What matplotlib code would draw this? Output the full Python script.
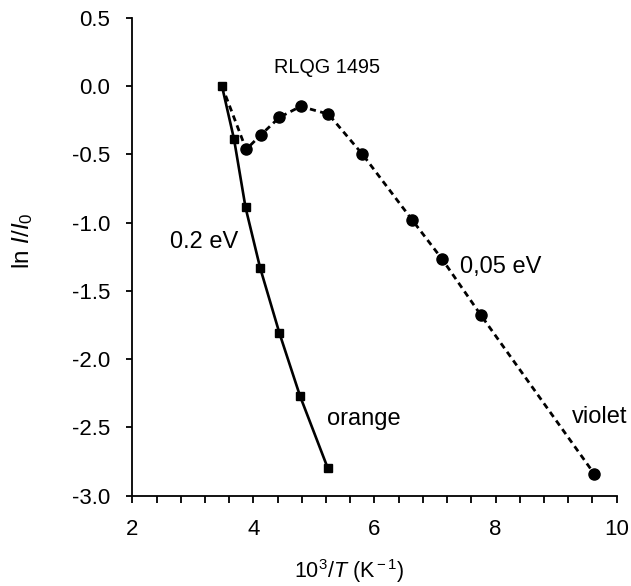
import numpy as np
import matplotlib.pyplot as plt
from matplotlib.ticker import MultipleLocator

plt.rcParams['font.family'] = ['Liberation Sans', 'DejaVu Sans']
plt.rcParams['mathtext.fontset'] = 'custom'
plt.rcParams['mathtext.rm'] = 'Liberation Sans'
plt.rcParams['mathtext.it'] = 'Liberation Sans:italic'
plt.rcParams['mathtext.bf'] = 'Liberation Sans:bold'

# orange band (squares, solid)
x_orange = [3.48, 3.68, 3.87, 4.11, 4.43, 4.77, 5.23]
y_orange = [0.0, -0.39, -0.89, -1.33, -1.81, -2.27, -2.80]

# violet band (circles, dashed), starts from the common first point
x_violet = [3.48, 3.88, 4.12, 4.43, 4.78, 5.24, 5.80, 6.62, 7.12, 7.76, 9.63]
y_violet = [0.0, -0.465, -0.36, -0.23, -0.15, -0.207, -0.50, -0.98, -1.27, -1.68, -2.84]

fig = plt.figure(figsize=(6.31, 5.86), dpi=100)
ax = fig.add_axes([0.2097, 0.154, 0.7676, 0.816])

ax.plot(x_violet, y_violet, color='black', lw=2, ls=(0, (2.2, 1.6)))
ax.plot(x_violet[1:], y_violet[1:], 'o', color='black', ms=8)
ax.plot(x_orange, y_orange, color='black', lw=1.9, marker='s', ms=5.5)

ax.set_xlim(2, 10)
ax.set_ylim(-3.0, 0.5)
ax.xaxis.set_major_locator(MultipleLocator(2))
ax.xaxis.set_minor_locator(MultipleLocator(0.4))
ax.yaxis.set_major_locator(MultipleLocator(0.5))
ax.yaxis.set_major_formatter(plt.FuncFormatter(lambda v, p: f'{v:.1f}'))
ax.xaxis.set_major_formatter(plt.FuncFormatter(lambda v, p: f'{v:.0f}'))

for s in ['top', 'right']:
    ax.spines[s].set_visible(False)
for s in ['left', 'bottom']:
    ax.spines[s].set_linewidth(1.3)
ax.tick_params(axis='y', which='major', direction='out', length=4, width=1.3,
               labelsize=16, pad=12)
ax.tick_params(axis='x', which='major', direction='out', length=5, width=1.3,
               labelsize=16, pad=12)
ax.tick_params(axis='x', which='minor', direction='out', length=5, width=1.3)

ax.text(5.22, 0.093, 'RLQG 1495', fontsize=14.3, ha='center', va='baseline')
ax.text(3.19, -1.189, '0.2 eV', fontsize=17, ha='center', va='baseline')
ax.text(8.08, -1.370, '0,05 eV', fontsize=17, ha='center', va='baseline')
ax.text(5.83, -2.482, 'orange', fontsize=17, ha='center', va='baseline')
ax.text(9.72, -2.468, 'violet', fontsize=17, ha='center', va='baseline')

ax.set_ylabel(r'ln $\mathit{I}$/$\mathit{I}_0$', fontsize=17.5)
ax.yaxis.set_label_coords(-0.201, 0.533)
ax.set_xlabel(r'10$^3$/$\mathit{T}$ (K$^{\rm -1}$)', fontsize=15.5)
ax.xaxis.label.set_verticalalignment('baseline')
ax.xaxis.set_label_coords(0.447, -0.172)

fig.savefig('out.png', dpi=100)
